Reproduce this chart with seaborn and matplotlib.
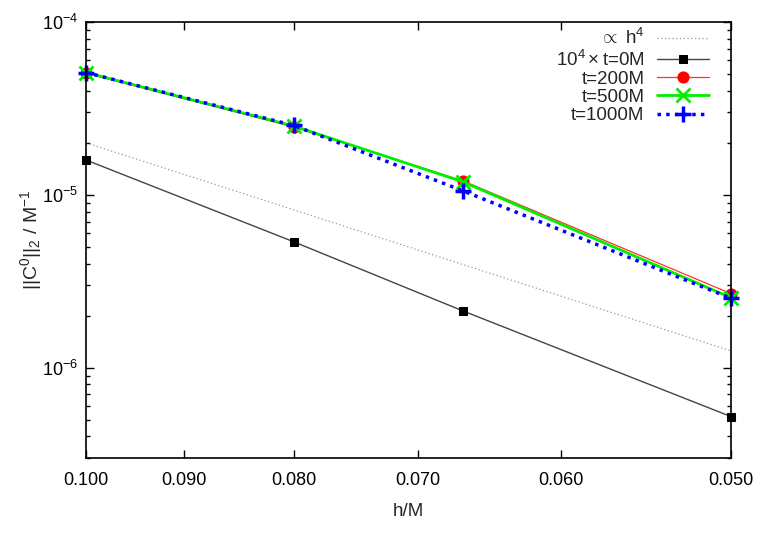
import matplotlib
matplotlib.use("Agg")
import matplotlib.pyplot as plt
import matplotlib.ticker as mticker
import seaborn as sns
import pandas as pd

sns.set_style("ticks")
plt.rcParams['font.family'] = ['Liberation Sans', 'DejaVu Sans']
plt.rcParams['mathtext.fontset'] = 'custom'
plt.rcParams['mathtext.rm'] = 'Liberation Sans'
plt.rcParams['mathtext.it'] = 'Liberation Sans:italic'
plt.rcParams['mathtext.bf'] = 'Liberation Sans:bold'

# data
h = [0.1, 0.08, 0.0667, 0.05]
h4_ref = [2.0e-5, 8.19e-6, 3.95e-6, 1.25e-6]
t0_scaled = [1.59e-5, 5.35e-6, 2.13e-6, 5.21e-7]
t200 = [5.05e-5, 2.47e-5, 1.205e-5, 2.68e-6]
t500 = [5.1e-5, 2.5e-5, 1.19e-5, 2.54e-6]
t1000 = [5.1e-5, 2.52e-5, 1.055e-5, 2.52e-6]
xticks = [0.100, 0.090, 0.080, 0.070, 0.060, 0.050]
labels = [r"$\propto$ h$^4$", r"10$^4\times$t=0M", "t=200M", "t=500M", "t=1000M"]

fig = plt.figure(figsize=(7.64, 5.35), dpi=100)
ax = fig.add_axes([0.1126, 0.1439, 0.8442, 0.815])

common = dict(ax=ax, sort=False, clip_on=False)
df_ref = pd.DataFrame({"h": h, "v": h4_ref})
sns.lineplot(data=df_ref, x="h", y="v", color="#999999", lw=0.9,
             linestyle=(0, (1, 2)), label=labels[0], **common)
df0 = pd.DataFrame({"h": h, "v": t0_scaled})
sns.lineplot(data=df0, x="h", y="v", color="#444444", lw=1.0,
             marker="s", markersize=6, markerfacecolor="black",
             markeredgecolor="black", label=labels[1], **common)
df2 = pd.DataFrame({"h": h, "v": t200})
sns.lineplot(data=df2, x="h", y="v", color="#ff3030", lw=0.9,
             marker="o", markersize=8, markerfacecolor="red",
             markeredgecolor="red", label=labels[2], **common)
df5 = pd.DataFrame({"h": h, "v": t500})
sns.lineplot(data=df5, x="h", y="v", color="#00ee00", lw=2.0,
             marker="x", markersize=10, markeredgewidth=2,
             markeredgecolor="#00ee00", label=labels[3], **common)
df10 = pd.DataFrame({"h": h, "v": t1000})
sns.lineplot(data=df10, x="h", y="v", color="#0000ff", lw=2.5,
             linestyle=(0, (1, 1.5)), marker="+", markersize=12,
             markeredgewidth=2.5, markeredgecolor="#0000ff",
             label=labels[4], **common)

ax.set_xscale("log")
ax.set_yscale("log")
ax.set_xlim(0.1, 0.05)
ax.set_ylim(3.0e-7, 1e-4)
ax.xaxis.set_major_locator(mticker.FixedLocator(xticks))
ax.xaxis.set_minor_locator(mticker.NullLocator())
ax.xaxis.set_major_formatter(mticker.FormatStrFormatter("%.3f"))
ax.yaxis.set_major_locator(mticker.LogLocator(base=10))
ax.yaxis.set_minor_locator(mticker.LogLocator(base=10, subs=range(2, 10)))
ax.yaxis.set_major_formatter(mticker.LogFormatterMathtext())
ax.yaxis.set_minor_formatter(mticker.NullFormatter())

ax.tick_params(which="both", direction="in", top=True, right=True,
               labelsize=13, colors="black")
ax.tick_params(which="major", length=6, width=1)
ax.tick_params(which="minor", length=3, width=1)
ax.tick_params(axis="x", pad=10)
ax.tick_params(axis="y", pad=6)
for s in ax.spines.values():
    s.set_visible(True)
    s.set_linewidth(1.2)
    s.set_color("black")

ax.set_xlabel("h/M", fontsize=13.5, labelpad=10)
ax.set_ylabel(r"||C$^0$||$_2$ / M$^{-1}$", fontsize=14, labelpad=-2)

leg = ax.legend(loc="upper right", frameon=False, markerfirst=False,
                fontsize=13.5, handlelength=2.8, handletextpad=0.65,
                labelspacing=0.06, borderaxespad=0.0, bbox_to_anchor=(0.978, 1.003))

fig.savefig("out.png", dpi=100)
